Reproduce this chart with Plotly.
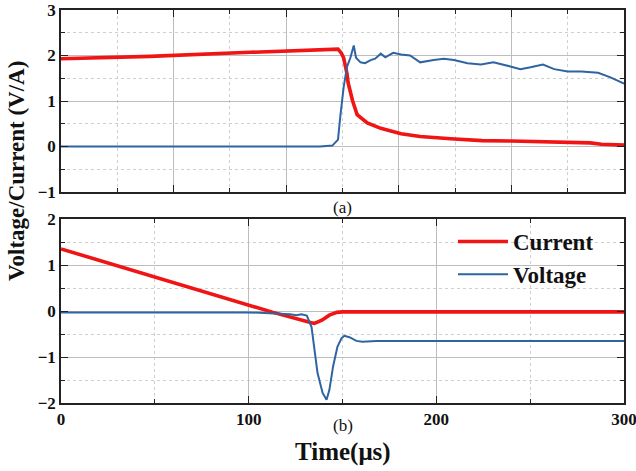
import plotly.graph_objects as go

# ---- data: panel (a) (time axis units of the upper panel, 0-500) ----
a_cur_t = [0, 79, 168, 213, 239, 246, 249, 251, 254, 255, 259, 263, 272, 284, 302, 319, 346, 374, 400, 417, 441, 463, 470, 480, 500]
a_cur_v = [1.93, 1.98, 2.07, 2.12, 2.15, 2.14, 2.05, 1.95, 1.6, 1.4, 1.0, 0.7, 0.52, 0.4, 0.28, 0.22, 0.17, 0.13, 0.12, 0.11, 0.09, 0.07, 0.08, 0.05, 0.03]
a_vol_t = [0, 60, 124, 180, 230, 241, 246, 248, 251, 254, 257, 260, 262, 266, 270, 275, 279, 284, 288, 295, 302, 310, 319, 331, 340, 349, 361, 373, 384, 399, 408, 417, 428, 438, 450, 462, 477, 488, 500]
a_vol_v = [0.0, 0.0, -0.01, 0.0, 0.0, 0.02, 0.15, 0.65, 1.3, 1.75, 1.95, 2.22, 1.95, 1.85, 1.83, 1.9, 1.93, 2.04, 1.96, 2.06, 2.02, 2.0, 1.85, 1.9, 1.93, 1.9, 1.83, 1.8, 1.85, 1.76, 1.7, 1.74, 1.8, 1.7, 1.65, 1.65, 1.62, 1.52, 1.38]

# ---- data: panel (b) (time in us) ----
b_cur_t = [0, 90, 113, 133, 135, 139, 143, 147, 150, 200, 250, 300]
b_cur_v = [1.35, 0.26, -0.03, -0.25, -0.27, -0.2, -0.09, -0.03, -0.02, -0.02, -0.02, -0.02]
b_vol_t = [0, 50, 100, 122, 125.5, 128, 131, 133.5, 135, 136.7, 139.4, 141.5, 143, 145, 147.3, 149.5, 151, 153.7, 157.4, 160.6, 168, 200, 250, 300]
b_vol_v = [-0.03, -0.03, -0.03, -0.07, -0.09, -0.07, -0.1, -0.35, -0.78, -1.35, -1.78, -1.93, -1.72, -1.2, -0.78, -0.59, -0.54, -0.57, -0.65, -0.67, -0.65, -0.65, -0.65, -0.65]

x_ticks_b = [0, 100, 200, 300]
y_ticks_a = [-1, 0, 1, 2, 3]
y_ticks_b = [-2, -1, 0, 1, 2]

RED = "#f01414"
BLUE = "#2f64a2"
FONT = "Liberation Serif"

fig = go.Figure()
fig.add_trace(go.Scatter(x=a_cur_t, y=a_cur_v, mode="lines", line=dict(color=RED, width=3.6),
                         xaxis="x", yaxis="y", showlegend=False))
fig.add_trace(go.Scatter(x=a_vol_t, y=a_vol_v, mode="lines", line=dict(color=BLUE, width=2),
                         xaxis="x", yaxis="y", showlegend=False))
fig.add_trace(go.Scatter(x=b_cur_t, y=b_cur_v, mode="lines", line=dict(color=RED, width=3.6),
                         xaxis="x2", yaxis="y2", name="Current"))
fig.add_trace(go.Scatter(x=b_vol_t, y=b_vol_v, mode="lines", line=dict(color=BLUE, width=2),
                         xaxis="x2", yaxis="y2", name="Voltage"))

common = dict(showline=True, linecolor="#222", linewidth=1.5, mirror="allticks",
              ticks="inside", ticklen=7, tickcolor="#222", tickwidth=1.3,
              showgrid=True, gridcolor="#bdbdbd", gridwidth=1, zeroline=False,
              automargin=False, ticklabeloverflow="allow",
              tickfont=dict(family=FONT, size=17, color="#111", weight="bold"))
minor = dict(ticks="inside", ticklen=4, tickcolor="#222", showgrid=True,
             gridcolor="#cfcfcf", griddash="dot", gridwidth=1)

top_dom = [(403 - 192) / 393, 1.0]
bot_dom = [0.0, (403 - 219) / 393]

fig.update_layout(
    width=636, height=471,
    margin=dict(l=61, r=12, t=10, b=68, autoexpand=False),
    paper_bgcolor="white", plot_bgcolor="white",
    xaxis=dict(domain=[0, 1], anchor="y", range=[0, 500], dtick=100, tick0=0,
               showticklabels=False, minor=dict(dtick=50, **minor), **common),
    yaxis=dict(domain=top_dom, anchor="x", range=[-1, 3], tickvals=y_ticks_a,
               minor=dict(dtick=0.5, **minor), **common),
    xaxis2=dict(domain=[0, 1], anchor="y2", range=[0, 300], tickvals=x_ticks_b,
                minor=dict(dtick=50, **minor), **common),
    yaxis2=dict(domain=bot_dom, anchor="x2", range=[-2, 2], tickvals=y_ticks_b,
                minor=dict(dtick=0.5, **minor), **common),
    legend=dict(x=(453 - 61) / 563, y=(403 - 220) / 393, xanchor="left", yanchor="top",
                bgcolor="rgba(0,0,0,0)", font=dict(family=FONT, size=23, color="#111", weight="bold"),
                tracegroupgap=0, itemwidth=50),
    showlegend=True,
)

ann_font = dict(family=FONT, size=17, color="#111")
fig.add_annotation(text="(a)", x=0.5, y=(403 - 207) / 393, xref="paper", yref="paper",
                   showarrow=False, font=ann_font, xanchor="center", yanchor="middle")
fig.add_annotation(text="(b)", x=0.5, y=(403 - 425) / 393, xref="paper", yref="paper",
                   showarrow=False, font=ann_font, xanchor="center", yanchor="middle")
fig.add_annotation(text="Time(μs)", x=0.5, y=(403 - 452) / 393, xref="paper", yref="paper",
                   showarrow=False, font=dict(family=FONT, size=25, color="#111", weight="bold"),
                   xanchor="center", yanchor="middle")
fig.add_annotation(text="Voltage/Current (V/A)", x=(16 - 61) / 563, y=(403 - 171) / 393,
                   xref="paper", yref="paper", textangle=-90, showarrow=False,
                   font=dict(family=FONT, size=23, color="#111", weight="bold"),
                   xanchor="center", yanchor="middle")

fig.write_html("out.html", config={"displayModeBar": False},
               post_script="document.body.style.margin='0';")
